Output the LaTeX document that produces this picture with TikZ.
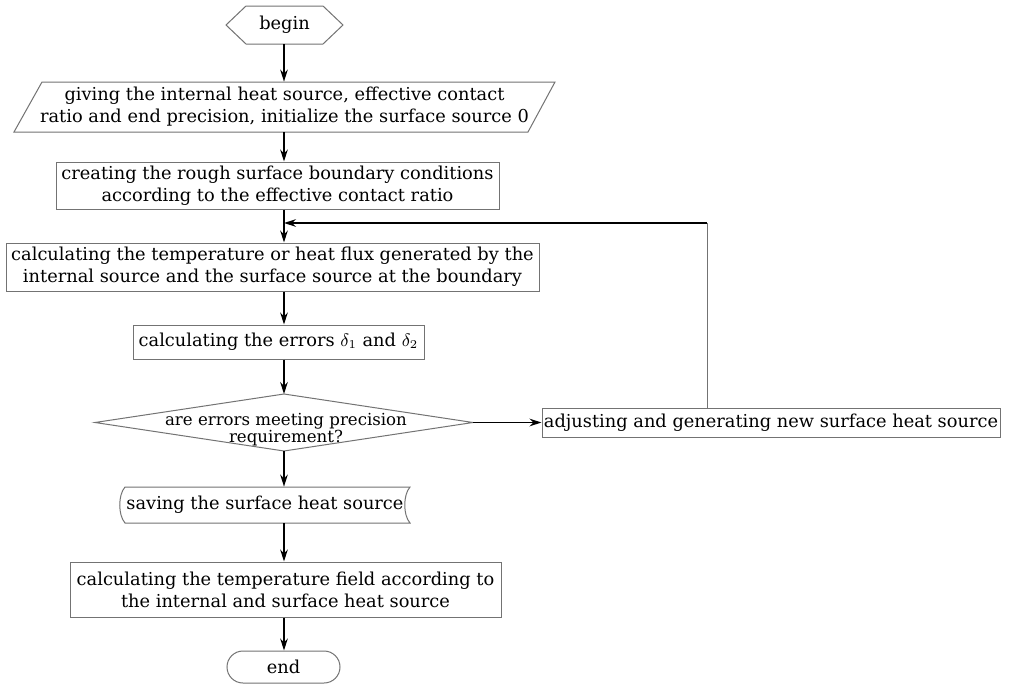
\documentclass[tikz,border=0pt]{standalone}
\usepackage{fontspec}
\setmainfont{DejaVu Serif}
\usetikzlibrary{arrows.meta,calc}
\newcommand\txtfont{\fontsize{8.9}{11}\selectfont}
\tikzset{
  bord/.style={draw=black!55, line width=0.5pt},
  box/.style={bord, rectangle, inner sep=0pt, align=center, font=\txtfont},
  shp/.style={rectangle, inner sep=0pt, align=center, font=\txtfont},
  arr/.style={draw=black, line width=0.8pt, -{Stealth[length=6pt,width=3.8pt,inset=2pt]}},
  thinline/.style={bord}
}
\begin{document}
\begin{tikzpicture}[x=0.5pt,y=-0.5pt]
\useasboundingbox[fill=white] (0,0) rectangle (1013,685);
% begin
\node[shp, minimum width=58.5pt, minimum height=19pt] (begin) at (284.5,25) {begin};
\draw[bord] (226,25) -- (246,6) -- (323,6) -- (343,25) -- (323,44) -- (246,44) -- cycle;
% input parallelogram
\node[shp, minimum width=257pt, minimum height=25pt] (inp) at (284.5,107)
  {giving the internal heat source, effective contact\\ratio and end precision, initialize the surface source 0};
\draw[bord] (42,82) -- (555,82) -- (528,132) -- (14,132) -- cycle;
% boxes
\node[box, minimum width=221.5pt, minimum height=23.5pt] (cre) at (277.5,185.5)
  {creating the rough surface boundary conditions\\according to the effective contact ratio};
\node[box, minimum width=266.5pt, minimum height=24pt] (calc) at (272.5,267)
  {calculating the temperature or heat flux generated by the\\internal source and the surface source at the boundary};
\node[box, minimum width=145.5pt, minimum height=17pt] (err) at (278.5,342)
  {calculating the errors $\delta_{1}$ and $\delta_{2}$};
% decision
\coordinate (dec) at (284,422.5);
\node[shp, font=\fontsize{8.3}{8.6}\selectfont] (dectxt) at (286,430)
  {are errors meeting precision\\requirement?};
\draw[bord] (95,422.5) -- (284,394) -- (473,422.5) -- (284,451) -- cycle;
\coordinate (dectop) at (284,394);
\coordinate (decbot) at (284,451);
\coordinate (decright) at (473,422.5);
\node[box, minimum width=229pt, minimum height=14.5pt] (adj) at (771,422.5)
  {adjusting and generating new surface heat source};
% saving
\node[shp, minimum width=144pt, minimum height=18pt] (sav) at (265,505)
  {saving the surface heat source};
\draw[bord] (125,487) -- (410,487) .. controls (403,495) and (403,515) .. (410,523)
  -- (125,523) .. controls (118,515) and (118,495) .. (125,487) -- cycle;
\node[box, minimum width=215.5pt, minimum height=27.5pt] (fin) at (285.5,589.5)
  {calculating the temperature field according to\\the internal and surface heat source};
% end
\node[bord, rounded corners=8pt, minimum width=56.5pt, minimum height=16pt, inner sep=0pt, font=\txtfont] (en) at (283.5,667) {end};
% connectors
\coordinate (ax) at (284,0);
\draw[arr] (begin.south -| ax) -- (inp.north -| ax);
\draw[arr] (inp.south -| ax) -- (cre.north -| ax);
\draw[arr] (cre.south -| ax) -- (calc.north -| ax);
\draw[arr] (calc.south -| ax) -- (err.north -| ax);
\draw[arr] (err.south -| ax) -- (dectop);
\draw[arr] (decbot) -- (sav.north -| ax);
\draw[arr] (sav.south -| ax) -- (fin.north -| ax);
\draw[arr] (fin.south -| ax) -- (en.north -| ax);
\draw[arr] (decright) -- (adj.west);
\coordinate (lp) at (707,223);
\draw[thinline] (adj.north -| lp) -- (lp);
\draw[arr] (lp) -- (lp -| ax);
\end{tikzpicture}
\end{document}
